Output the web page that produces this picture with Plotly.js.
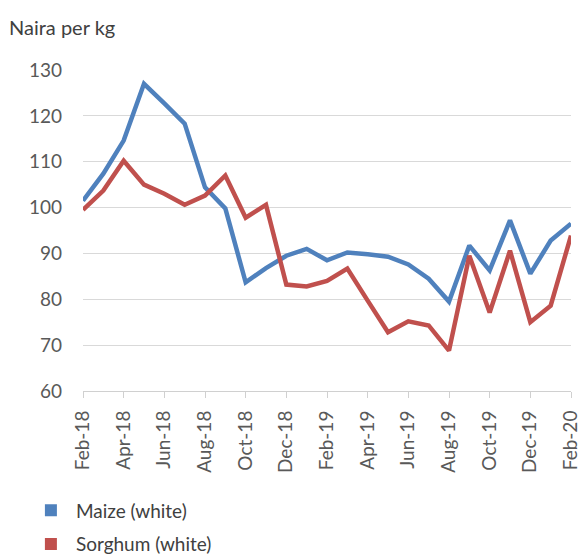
<!DOCTYPE html>
<html>
<head>
<meta charset="utf-8">
<script src="https://cdn.plot.ly/plotly-3.0.1.min.js"></script>
<style>html,body{margin:0;padding:0;background:#fff;}#chart{width:582px;height:558px;}</style>
</head>
<body>
<div id="chart"></div>
<script>
var months = ["Feb-18","Mar-18","Apr-18","May-18","Jun-18","Jul-18","Aug-18","Sep-18","Oct-18","Nov-18","Dec-18","Jan-19",
              "Feb-19","Mar-19","Apr-19","May-19","Jun-19","Jul-19","Aug-19","Sep-19","Oct-19","Nov-19","Dec-19","Jan-20","Feb-20"];
var maize   = [101.5,107.4,114.6,127.0,122.7,118.3,104.4,99.8,83.7,86.8,89.5,91.0,
               88.5,90.2,89.8,89.3,87.6,84.5,79.5,91.7,86.3,97.2,85.6,92.8,96.5];
var sorghum = [99.5,103.7,110.2,105.0,103.0,100.6,102.6,107.0,97.8,100.6,83.2,82.8,
               84.0,86.7,79.7,72.8,75.2,74.3,68.8,89.5,77.1,90.6,75.0,78.6,93.9];
var tickLabels = ["Feb-18","Apr-18","Jun-18","Aug-18","Oct-18","Dec-18","Feb-19","Apr-19","Jun-19","Aug-19","Oct-19","Dec-19","Feb-20"];
var seriesNames = ["Maize (white)","Sorghum (white)"];
var colors = ["#4f81bd","#c0504d"];

var FONT = "Lato, 'Open Sans', sans-serif";
var traces = [
  {x: months, y: maize, type: "scatter", mode: "lines", line: {color: colors[0], width: 4.5}, showlegend: false, name: seriesNames[0]},
  {x: months, y: sorghum, type: "scatter", mode: "lines", line: {color: colors[1], width: 4.5}, showlegend: false, name: seriesNames[1]},
  {x: [null], y: [null], type: "scatter", mode: "markers", marker: {symbol: "square", size: 12, color: colors[0]}, name: seriesNames[0], legendgroup: "a"},
  {x: [null], y: [null], type: "scatter", mode: "markers", marker: {symbol: "square", size: 12, color: colors[1]}, name: seriesNames[1], legendgroup: "b"}
];
var layout = {
  width: 582, height: 558,
  margin: {l: 83, r: 11, t: 70, b: 167, autoexpand: false},
  paper_bgcolor: "#fff", plot_bgcolor: "#fff",
  font: {family: FONT, color: "#595959", size: 18},
  title: {text: "Naira per kg", x: 9/582, xanchor: "left", xref: "container", y: 1 - 28/558, yanchor: "middle", yref: "container",
          font: {family: FONT, size: 20, color: "#404040"}},
  xaxis: {type: "category", categoryorder: "array", categoryarray: months, range: [0, 24], automargin: false,
          tickvals: tickLabels, ticktext: tickLabels, tickangle: -90, ticklabelstandoff: 5,
          showgrid: false, zeroline: false, showline: true, linecolor: "#d0d0d0", linewidth: 1,
          ticks: "outside", ticklen: 6, tickcolor: "#d0d0d0", tickfont: {size: 19, color: "#595959"}},
  yaxis: {range: [60, 130], dtick: 10, showgrid: true, gridcolor: "#d9d9d9", gridwidth: 1, automargin: false,
          zeroline: false, showline: false, ticks: "", ticklen: 0, ticklabelstandoff: 20,
          tickfont: {size: 19, color: "#595959"}},
  showlegend: true,
  legend: {x: -0.117, xanchor: "left", y: -0.313, yanchor: "top", orientation: "v", itemwidth: 40,
           font: {family: FONT, size: 19, color: "#404040"}, bgcolor: "rgba(0,0,0,0)", tracegroupgap: 6}
};
Plotly.newPlot("chart", traces, layout, {displayModeBar: false, staticPlot: true});
</script>
</body>
</html>
